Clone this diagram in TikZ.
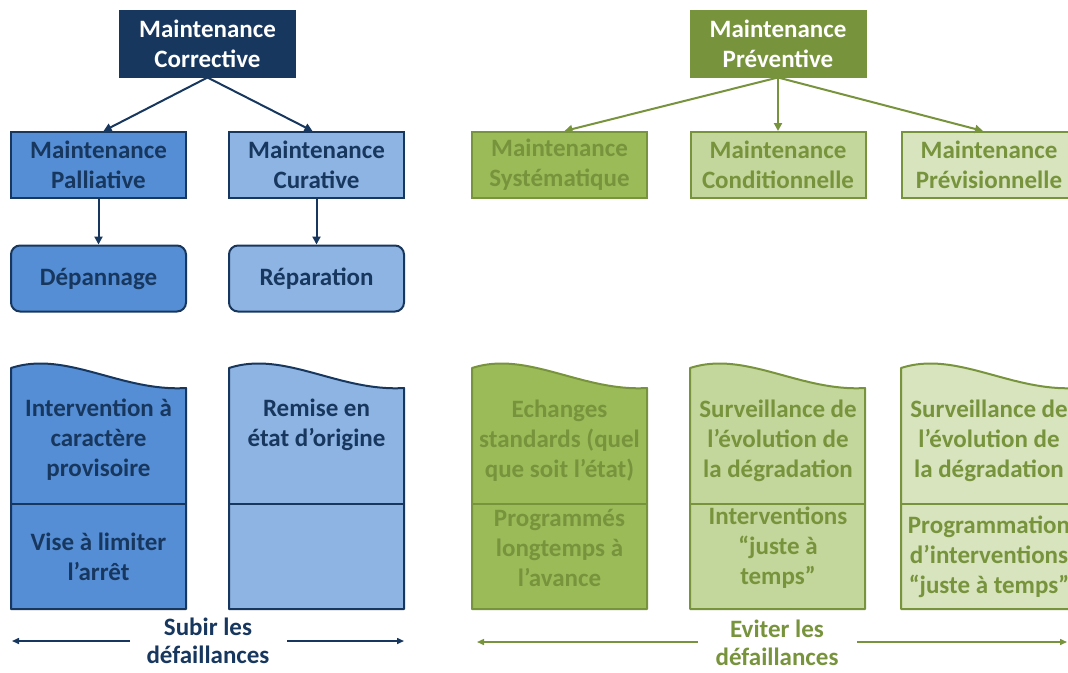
\documentclass[tikz,border=0pt]{standalone}
\usepackage{fontspec}
\setmainfont{Carlito}
\usetikzlibrary{arrows.meta}

\definecolor{bleufonce}{HTML}{17375E}
\definecolor{bleumoyen}{HTML}{558ED5}
\definecolor{bleuclair}{HTML}{8EB4E3}
\definecolor{vertfonce}{HTML}{77933C}
\definecolor{vertmoyen}{HTML}{9BBB59}
\definecolor{vertclair}{HTML}{C3D69B}
\definecolor{vertpale}{HTML}{D7E4BD}

\begin{document}
\begin{tikzpicture}[x=1pt,y=-1pt,
    boite/.style={draw=#1,line width=2pt,minimum width=175pt,minimum height=66pt,
      align=center,inner sep=0pt,font=\bfseries\fontsize{25}{30}\selectfont},
    texte/.style={align=center,inner sep=0pt,font=\bfseries\fontsize{25}{30}\selectfont},
    bas/.style={align=center,inner sep=0pt,font=\bfseries\fontsize{25}{28}\selectfont},
    fleche/.style={draw=#1,line width=2pt,-{Triangle[length=8pt,width=8pt,fill=#1]}},
    flechebas/.style={draw=#1,line width=1.5pt,-{Triangle[length=7pt,width=6pt,fill=#1]}}]
  \useasboundingbox (0,0) rectangle (1068,672);
  \clip (0,0) rectangle (1068,672);

  \node[boite=bleufonce,fill=bleufonce,text=white] (mc) at (207.5,43.5) {Maintenance\\Corrective};
  \node[boite=bleufonce,fill=bleumoyen,text=bleufonce] (pal) at (98.5,165) {Maintenance\\Palliative};
  \node[boite=bleufonce,fill=bleuclair,text=bleufonce] (cur) at (316.5,165) {Maintenance\\Curative};
  \node[boite=bleufonce,fill=bleumoyen,text=bleufonce,rounded corners=9pt] (dep) at (98.5,278.5) {Dépannage};
  \node[boite=bleufonce,fill=bleuclair,text=bleufonce,rounded corners=9pt] (rep) at (316.5,278.5) {Réparation};

  \node[boite=vertfonce,fill=vertfonce,text=white] (mp) at (778,43.5) {Maintenance\\Préventive};
  \node[boite=vertfonce,fill=vertmoyen,text=vertfonce] (sys) at (559.5,165) {Maintenance\\Systématique};
  \node[boite=vertfonce,fill=vertclair,text=vertfonce] (con) at (778,165) {Maintenance\\Conditionnelle};
  \node[boite=vertfonce,fill=vertpale,text=vertfonce] (prv) at (989,165) {Maintenance\\Prévisionnelle};

  \draw[fleche=bleufonce] (mc.south) -- ([xshift=5pt]pal.north);
  \draw[fleche=bleufonce] (mc.south) -- ([xshift=-4pt]cur.north);
  \draw[fleche=bleufonce] (pal) -- (dep);
  \draw[fleche=bleufonce] (cur) -- (rep);
  \draw[fleche=vertfonce] (mp.south) -- ([xshift=5pt]sys.north);
  \draw[fleche=vertfonce] (mp.south) -- (con.north);
  \draw[fleche=vertfonce] (mp.south) -- ([xshift=-6pt]prv.north);

  \foreach \x/\f/\d in {11/bleumoyen/bleufonce,229/bleuclair/bleufonce,472/vertmoyen/vertfonce,690/vertclair/vertfonce,901/vertpale/vertfonce}{
    \draw[draw=\d,fill=\f,line width=2pt,line join=round]
      (\x,368) .. controls (\x+55,350) and (\x+110,392) .. (\x+175,388)
      -- (\x+175,609) -- (\x,609) -- cycle;
    \draw[draw=\d,line width=2pt] (\x,504) -- (\x+175,504);
  }

  \node[texte,text=bleufonce] (t1) at (98.5,440) {Intervention à\\caractère\\provisoire};
  \node[texte,text=bleufonce] (t2) at (316.5,425) {Remise en\\état d’origine};
  \node[texte,text=bleufonce] (b1) at (98.5,557) {Vise à limiter\\l’arrêt};
  \node[texte,text=vertfonce] (t3) at (559.5,441) {Echanges\\standards (quel\\que soit l’état)};
  \node[texte,text=vertfonce] (t4) at (778,441) {Surveillance de\\l’évolution de\\la dégradation};
  \node[texte,text=vertfonce] (t5) at (989,441) {Surveillance de\\l’évolution de\\la dégradation};
  \node[texte,text=vertfonce] (b3) at (559.5,548) {Programmés\\longtemps à\\l’avance};
  \node[texte,text=vertfonce] (b4) at (778,548) {Interventions\\“juste à\\temps”};
  \node[texte,text=vertfonce] (b5) at (989,557) {Programmation\\d’interventions\\“juste à temps”};

  \node[bas,text=bleufonce] (sub) at (208,641) {Subir les\\défaillances};
  \node[bas,text=vertfonce] (evi) at (777,643) {Eviter les\\défaillances};
  \coordinate (sg1) at (130,641);
  \coordinate (sg2) at (12,641);
  \coordinate (sd1) at (287,641);
  \coordinate (sd2) at (404,641);
  \coordinate (eg1) at (698,642);
  \coordinate (eg2) at (477,642);
  \coordinate (ed1) at (857,642);
  \coordinate (ed2) at (1067,642);
  \draw[flechebas=bleufonce] (sg1) -- (sg2);
  \draw[flechebas=bleufonce] (sd1) -- (sd2);
  \draw[flechebas=vertfonce] (eg1) -- (eg2);
  \draw[flechebas=vertfonce] (ed1) -- (ed2);
\end{tikzpicture}
\end{document}
